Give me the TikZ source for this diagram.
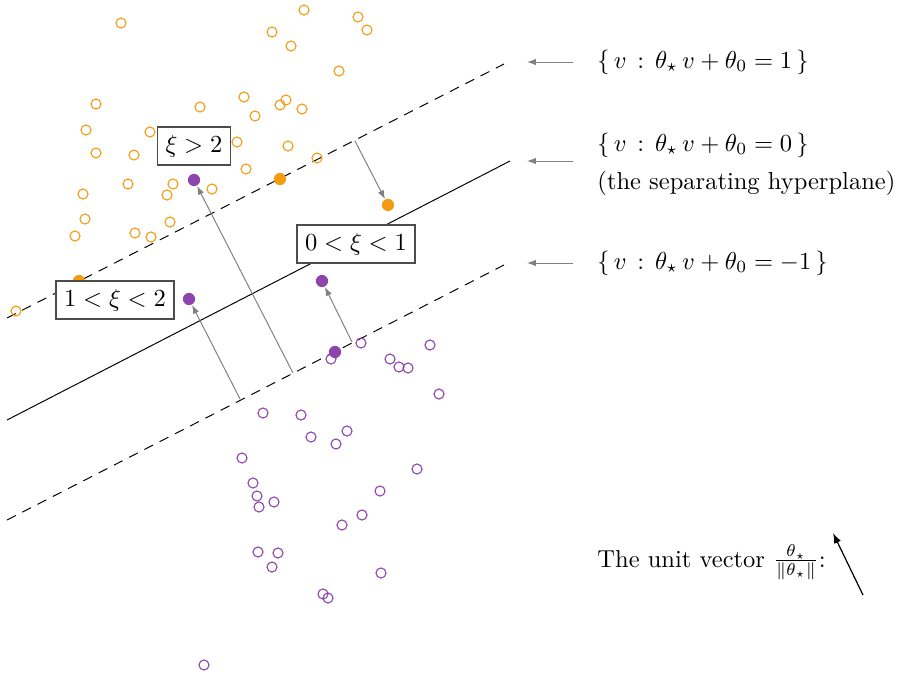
\documentclass[tikz,border=0pt]{standalone}
\usepackage{amsmath}
\usetikzlibrary{arrows.meta}
\definecolor{orangeC}{RGB}{243,156,18}
\definecolor{purpleC}{RGB}{142,68,173}
\tikzset{
  opendot/.style={circle, draw=#1, line width=0.45pt, inner sep=0pt, minimum size=4.1pt},
  fulldot/.style={circle, fill=#1, draw=none, inner sep=0pt, minimum size=5pt},
  slack/.style={draw=gray, line width=0.4pt, -{Latex[length=3.6pt,width=2.6pt]}},
  pointer/.style={draw=gray, line width=0.4pt, -{Latex[length=3.6pt,width=2.6pt]}},
  marginline/.style={line width=0.4pt, dash pattern=on 4pt off 3pt},
  hyperline/.style={line width=0.4pt},
  xibox/.style={draw=black!70, fill=white, line width=0.5pt, inner sep=3.3pt},
  lbl/.style={anchor=west, inner sep=0pt},
}
\begin{document}
\begin{tikzpicture}[x=0.408pt, y=-0.408pt]
\useasboundingbox (0,0) rectangle (904,674);
% lines
\coordinate (hl) at (7,420); \coordinate (hr) at (510,161);
\coordinate (ul) at (7,318); \coordinate (ur) at (504,64);
\coordinate (ll) at (7,520); \coordinate (lr) at (504,265);
\draw[hyperline] (hl) -- (hr);
\draw[marginline] (ul) -- (ur);
\draw[marginline] (ll) -- (lr);
% orange open points
\foreach \x/\y [count=\i] in {121/23,304/10,358/17,367/30,272/32,291/46,339/71,96/104,200/107,244/97,286/100,280/105,302/109,255/116,86/130,150/132,237/142,288/146,317/158,96/153,134/155,246/169,128/184,173/184,167/195,212/189,83/194,85/219,170/222,75/236,135/233,151/237,16/311}
  \node[opendot=orangeC] (o\i) at (\x,\y) {};
% purple open points
\foreach \x/\y [count=\i] in {361/343,430/345,331/359,390/359,399/367,408/368,439/394,263/413,301/415,311/437,347/431,336/444,242/458,417/469,253/483,380/491,257/496,274/502,259/507,362/515,342/525,258/552,278/553,272/567,381/573,323/594,328/598,204/665}
  \node[opendot=purpleC] (p\i) at (\x,\y) {};
% filled points
\node[fulldot=orangeC] (oS) at (280,179) {};
\node[fulldot=orangeC] (oA) at (388,205) {};
\node[fulldot=orangeC] (oH) at (79,281) {};
\node[fulldot=purpleC] (pS) at (335,352) {};
\node[fulldot=purpleC] (pA) at (194,180) {};
\node[fulldot=purpleC] (pB) at (189,299) {};
\node[fulldot=purpleC] (pC) at (322,281) {};
% slack arrows
\coordinate (s1) at (355,141);
\coordinate (s2) at (293,373);
\coordinate (s3) at (240,399);
\coordinate (s4) at (352,342);
\draw[slack] (s1) -- (oA);
\draw[slack] (s2) -- (pA);
\draw[slack] (s3) -- (pB);
\draw[slack] (s4) -- (pC);
% boxes
\node[xibox] (b2) at (194,146) {$\xi > 2$};
\node[xibox] (b01) at (356,244) {$0 < \xi < 1$};
\node[xibox] (b12) at (115,300) {$1 < \xi < 2$};
% right labels
\node[lbl] (t1) at (597,62) {$\{\, v \,:\, \theta_\star\, v + \theta_0 = 1 \,\}$};
\node[lbl] (t0) at (597,145) {$\{\, v \,:\, \theta_\star\, v + \theta_0 = 0 \,\}$};
\node[lbl] (t0b) at (597,183) {(the separating hyperplane)};
\node[lbl] (tm) at (597,263) {$\{\, v \,:\, \theta_\star\, v + \theta_0 = -1 \,\}$};
\coordinate (a1s) at (573,62);  \coordinate (a1e) at (527,62);
\coordinate (a0s) at (573,161); \coordinate (a0e) at (527,161);
\coordinate (ams) at (573,263); \coordinate (ame) at (527,263);
\draw[pointer] (a1s) -- (a1e);
\draw[pointer] (a0s) -- (a0e);
\draw[pointer] (ams) -- (ame);
% unit vector
\node[anchor=base west, inner sep=0pt] (uv) at (597,567) {The unit vector $\frac{\theta_\star}{\|\theta_\star\|}$:};
\coordinate (uvs) at (863,595); \coordinate (uve) at (833,533);
\draw[line width=0.5pt, -{Latex[length=4.2pt,width=3pt]}] (uvs) -- (uve);
\end{tikzpicture}
\end{document}
